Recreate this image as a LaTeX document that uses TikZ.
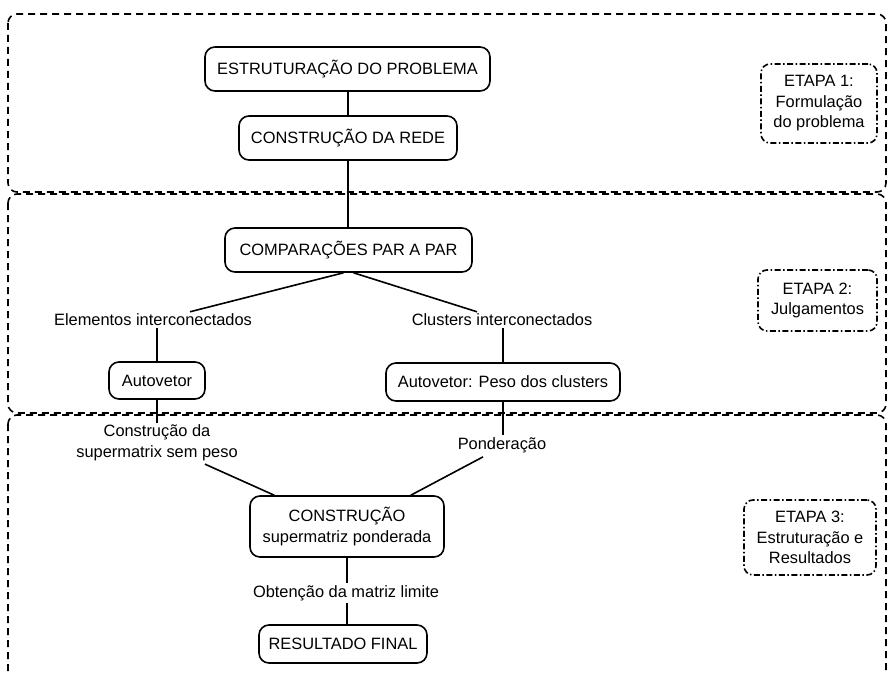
\documentclass[tikz,border=0pt]{standalone}
\usepackage{fontspec}
\setmainfont{Liberation Sans}
\usetikzlibrary{calc}
\begin{document}
\begin{tikzpicture}[x=1pt,y=-1pt,
  every node/.style={font=\fontsize{16.4}{20.5}\selectfont},
  box/.style={draw,line width=1.6pt,rounded corners=10pt,align=center,inner sep=0pt},
  lbl/.style={inner sep=2pt,align=center},
  etapa/.style={draw,line width=1.6pt,rounded corners=9pt,align=center,inner sep=0pt,
    dash pattern=on 6pt off 2.5pt on 1.5pt off 2.5pt},
  region/.style={draw,line width=1.6pt,rounded corners=9pt,dash pattern=on 7pt off 5pt},
  conn/.style={draw,line width=1.6pt}]
\useasboundingbox (0,0) rectangle (888,674);
\begin{scope}
\clip (0,0) rectangle (888,674);
\draw[region] (8,14) rectangle (886,192);
\draw[region] (8,194) rectangle (886,413);
\draw[region] (8,415) rectangle (886,700);
\end{scope}
% main nodes
\node[box,minimum width=285pt,minimum height=44pt] (est) at (347.5,69) {ESTRUTURAÇÃO DO PROBLEMA};
\node[box,minimum width=218pt,minimum height=44pt] (rede) at (348,138) {CONSTRUÇÃO DA REDE};
\node[box,minimum width=247pt,minimum height=44pt] (comp) at (348.5,250) {COMPARAÇÕES PAR A PAR};
\node[lbl] (elem) at (153,320) {Elementos interconectados};
\node[lbl] (clus) at (502,320) {Clusters interconectados};
\node[box,minimum width=96pt,minimum height=37pt] (auto) at (157,380.5) {Autovetor};
\node[box,minimum width=234pt,minimum height=38pt] (peso) at (503,382) {Autovetor: Peso dos clusters};
\node[lbl] (semp) at (157,443) {Construção da\\supermatrix sem peso};
\node[lbl] (pond) at (502,445) {Ponderação};
\node[box,minimum width=194pt,minimum height=61pt] (constr) at (347,526.5) {CONSTRUÇÃO\\supermatriz ponderada};
\node[lbl] (obt) at (346,593) {Obtenção da matriz limite};
\node[box,minimum width=168pt,minimum height=38pt] (res) at (343,644) {RESULTADO FINAL};
% etapa boxes
\node[etapa,minimum width=116pt,minimum height=79pt] (e1) at (819,103.5) {ETAPA 1:\\Formulação\\do problema};
\node[etapa,minimum width=119pt,minimum height=61pt] (e2) at (817.5,300.5) {ETAPA 2:\\Julgamentos};
\node[etapa,minimum width=132pt,minimum height=75pt] (e3) at (810,537.5) {ETAPA 3:\\Estruturação e\\Resultados};
% connectors
\draw[conn] (est.south -| rede.north) -- (rede.north);
\draw[conn] (rede.south) -- (comp.north -| rede.south);
\draw[conn] ($(comp.south)+(-5,0)$) -- ($(elem.north)+(37,0)$);
\draw[conn] ($(comp.south)+(5,0)$) -- ($(clus.north)+(-25,0)$);
\draw[conn] (auto.north |- elem.south) -- (auto.north);
\draw[conn] (peso.north |- clus.south) -- (peso.north);
\draw[conn] (auto.south) -- (semp.north -| auto.south);
\draw[conn] (peso.south) -- (pond.north -| peso.south);
\draw[conn] ($(semp.south east)+(-35,1)$) -- ($(constr.north west)+(25,0)$);
\draw[conn] ($(pond.south)+(-19,2)$) -- ($(constr.north east)+(-34,0)$);
\draw[conn] (constr.south) -- (obt.north -| constr.south);
\draw[conn] (obt.south -| constr.south) -- (res.north -| constr.south);
\end{tikzpicture}
\end{document}
